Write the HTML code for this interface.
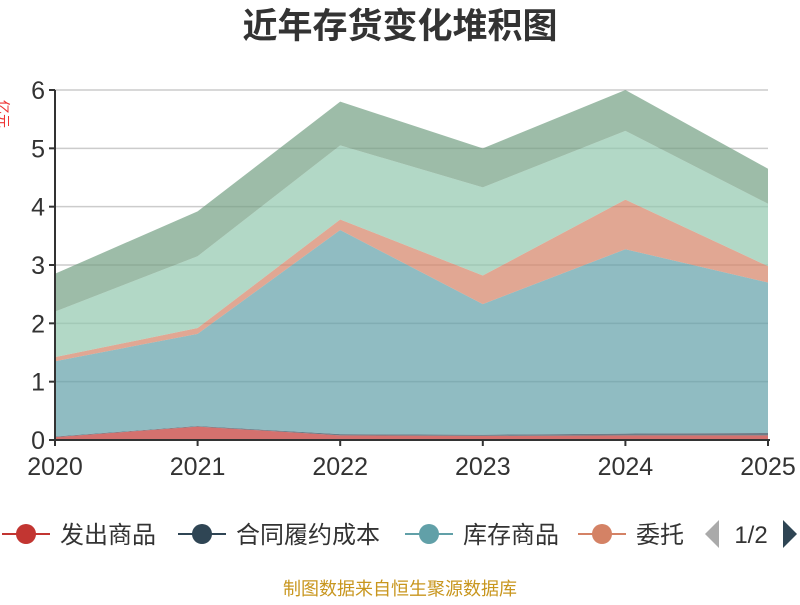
<!DOCTYPE html>
<html><head><meta charset="utf-8"><style>
body{margin:0;background:#fff;width:800px;height:600px;overflow:hidden;font-family:"Liberation Sans","Noto Sans CJK SC",sans-serif}
</style></head><body>
<svg id="c" width="800" height="600" xmlns="http://www.w3.org/2000/svg">
<text x="400" y="38" text-anchor="middle" font-size="35" font-weight="bold" fill="#333" font-family="Liberation Sans,Noto Sans CJK SC,sans-serif">近年存货变化堆积图</text>
<text x="-2" y="100" font-size="14" fill="#e33" transform="rotate(90 -2 100)" font-family="Liberation Sans,Noto Sans CJK SC,sans-serif">亿元</text>
<g id="grid"></g><g id="areas"></g><g id="axes"></g><g id="legend"></g>
<text x="400" y="595" text-anchor="middle" font-size="18" fill="#c8961e" font-family="Liberation Sans,Noto Sans CJK SC,sans-serif">制图数据来自恒生聚源数据库</text>
</svg>
<script>
const years=["2020","2021","2022","2023","2024","2025"];
const yTicks=[0,1,2,3,4,5,6];
const seriesNames=["发出商品","合同履约成本","库存商品","委托","其他1","其他2"];
const s1=[0.05,0.23,0.08,0.07,0.08,0.08];
const s2=[0.01,0.01,0.02,0.02,0.03,0.04];
const s3=[1.29,1.58,3.50,2.24,3.16,2.58];
const s4=[0.07,0.10,0.18,0.49,0.85,0.28];
const s5=[0.78,1.23,1.27,1.51,1.18,1.07];
const s6=[0.65,0.77,0.75,0.67,0.70,0.60];
const series=[s1,s2,s3,s4,s5,s6];
const colors=["#c23531","#2f4554","#61a0a8","#d48265","#91c7ae","#749f83"];
const NS="http://www.w3.org/2000/svg";
const x0=55,x1=768,yb=440,yt=90,ymax=6;
const X=i=>x0+(x1-x0)*i/(years.length-1);
const Y=v=>yb-(yb-yt)*v/ymax;
function mk(tag,attrs,parent){const e=document.createElementNS(NS,tag);for(const k in attrs)e.setAttribute(k,attrs[k]);parent.appendChild(e);return e;}
const grid=document.getElementById('grid'),axes=document.getElementById('axes'),areas=document.getElementById('areas'),leg=document.getElementById('legend');
yTicks.forEach(t=>{
 if(t>0){const l=mk('line',{x1:x0,x2:x1,y1:Y(t),y2:Y(t),stroke:'#ccc','stroke-width':1.5},grid);
 
 }
 mk('line',{x1:x0-6,x2:x0,y1:Y(t),y2:Y(t),stroke:'#333','stroke-width':2},axes);
 const tx=mk('text',{x:x0-10,y:Y(t)+9,'text-anchor':'end','font-size':25,fill:'#333'},axes);tx.textContent=t;
 
 
});
let base=years.map(()=>0);
series.forEach((s,k)=>{
 const top=base.map((b,i)=>b+s[i]);
 let d='M'+years.map((_,i)=>X(i)+','+Y(top[i])).join(' L');
 d+=' L'+years.map((_,i)=>X(years.length-1-i)+','+Y(base[years.length-1-i])).join(' L')+'Z';
 const p=mk('path',{d:d,fill:colors[k],'fill-opacity':0.7,stroke:'none'},areas);
 
 
 base=top;
});
mk('line',{x1:x0,x2:x0,y1:yt,y2:yb,stroke:'#333','stroke-width':2},axes);
mk('line',{x1:x0,x2:x1+2,y1:yb,y2:yb,stroke:'#333','stroke-width':2},axes);
years.forEach((yr,i)=>{
 mk('line',{x1:X(i),x2:X(i),y1:yb,y2:yb+6,stroke:'#333','stroke-width':2},axes);
 const t=mk('text',{x:X(i),y:yb+35,'text-anchor':'middle','font-size':25,fill:'#333'},axes);t.textContent=yr;
 
 
});
const lx=[2,178,405,578];
for(let k=0;k<4;k++){
 const g=mk('g',{},leg);
 
 
 mk('line',{x1:lx[k],x2:lx[k]+48,y1:534,y2:534,stroke:colors[k],'stroke-width':2},g);
 mk('circle',{cx:lx[k]+24,cy:534,r:10,fill:colors[k]},g);
 const t=mk('text',{x:lx[k]+58,y:543,'font-size':24,fill:'#333'},g);t.textContent=seriesNames[k];
}
const pl=mk('path',{d:'M705,534 L719,520 L719,548Z',fill:'#aaa'},leg);


const pt=mk('text',{x:751,y:543,'text-anchor':'middle','font-size':24,fill:'#333'},leg);pt.textContent='1/2';


const pn=mk('path',{d:'M783,520 L797,534 L783,548Z',fill:'#2f4554'},leg);


</script>
</body></html>
